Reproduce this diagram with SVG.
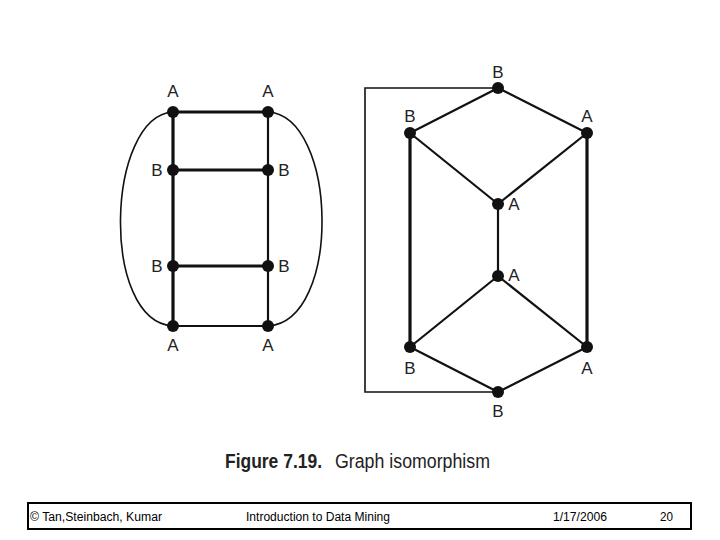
<svg xmlns="http://www.w3.org/2000/svg" width="720" height="540" viewBox="0 0 720 540">
<style>
.n{fill:#111}
.l{font-family:"Liberation Sans",Arial,sans-serif;font-size:17px;fill:#222;text-anchor:middle}
.e{stroke:#111;fill:none}
.t3{stroke-width:3.2}
.t2{stroke-width:2.2}
.t1{stroke-width:1.6}
.f{font-family:"Liberation Sans",Arial,sans-serif;font-size:12px;fill:#000}
</style>
<rect width="720" height="540" fill="#fff"/>
<g id="connectors">
<line class="e t3" x1="173" y1="112" x2="268" y2="112"/>
<line class="e t3" x1="173" y1="170" x2="268" y2="170"/>
<line class="e t3" x1="173" y1="266" x2="268" y2="266"/>
<line class="e t2" x1="173" y1="326" x2="268" y2="326"/>
<line class="e t3" x1="173" y1="112" x2="173" y2="326"/>
<line class="e t2" x1="268" y1="112" x2="268" y2="326"/>
<path class="e t1" d="M173,112 C106,116 100,322 173,326"/>
<path class="e t1" d="M268,112 C338,116 342,322 268,326"/>
<polyline class="e t1" points="498,88 365,88 365,392 498,392"/>
<line class="e t2" x1="498" y1="88" x2="410" y2="133"/>
<line class="e t2" x1="498" y1="88" x2="587" y2="133"/>
<line class="e t2" x1="410" y1="133" x2="498" y2="204"/>
<line class="e t2" x1="587" y1="133" x2="498" y2="204"/>
<line class="e t2" x1="498" y1="204" x2="498" y2="276"/>
<line class="e t3" x1="410" y1="133" x2="410" y2="347"/>
<line class="e t3" x1="587" y1="133" x2="587" y2="347"/>
<line class="e t2" x1="498" y1="276" x2="410" y2="347"/>
<line class="e t2" x1="498" y1="276" x2="587" y2="347"/>
<line class="e t2" x1="410" y1="347" x2="498" y2="392"/>
<line class="e t2" x1="587" y1="347" x2="498" y2="392"/>
</g>
<g id="L1"><circle class="n" cx="173" cy="112" r="6"/><text class="l" x="173" y="97">A</text></g>
<g id="L2"><circle class="n" cx="268" cy="112" r="6"/><text class="l" x="268" y="97">A</text></g>
<g id="L3"><circle class="n" cx="173" cy="170" r="6"/><text class="l" x="157" y="176">B</text></g>
<g id="L4"><circle class="n" cx="268" cy="170" r="6"/><text class="l" x="284" y="176">B</text></g>
<g id="L5"><circle class="n" cx="173" cy="266" r="6"/><text class="l" x="157" y="272">B</text></g>
<g id="L6"><circle class="n" cx="268" cy="266" r="6"/><text class="l" x="284" y="272">B</text></g>
<g id="L7"><circle class="n" cx="173" cy="326" r="6"/><text class="l" x="173" y="351">A</text></g>
<g id="L8"><circle class="n" cx="268" cy="326" r="6"/><text class="l" x="268" y="351">A</text></g>
<g id="R1"><circle class="n" cx="498" cy="88" r="6"/><text class="l" x="498" y="78">B</text></g>
<g id="R2"><circle class="n" cx="410" cy="133" r="6"/><text class="l" x="410" y="122">B</text></g>
<g id="R3"><circle class="n" cx="587" cy="133" r="6"/><text class="l" x="587" y="122">A</text></g>
<g id="R4"><circle class="n" cx="498" cy="204" r="6"/><text class="l" x="514" y="210">A</text></g>
<g id="R5"><circle class="n" cx="498" cy="276" r="6"/><text class="l" x="514" y="281">A</text></g>
<g id="R6"><circle class="n" cx="410" cy="347" r="6"/><text class="l" x="410" y="374">B</text></g>
<g id="R7"><circle class="n" cx="587" cy="347" r="6"/><text class="l" x="587" y="374">A</text></g>
<g id="R8"><circle class="n" cx="498" cy="392" r="6"/><text class="l" x="498" y="417">B</text></g>
<g id="caption">
<text x="225" y="468" font-family="'Liberation Sans',Arial,sans-serif" font-size="20" font-weight="bold" fill="#222" textLength="97" lengthAdjust="spacingAndGlyphs">Figure 7.19.</text>
<text x="335" y="468" font-family="'Liberation Sans',Arial,sans-serif" font-size="20" fill="#222" textLength="155" lengthAdjust="spacingAndGlyphs">Graph isomorphism</text>
</g>
<g id="footer">
<rect x="28" y="503" width="663" height="26" fill="none" stroke="#000" stroke-width="2"/>
<text class="f" x="30" y="521" textLength="132" lengthAdjust="spacingAndGlyphs">© Tan,Steinbach, Kumar</text>
<text class="f" x="246" y="521" textLength="144" lengthAdjust="spacingAndGlyphs">Introduction to Data Mining</text>
<text class="f" x="553" y="521" textLength="54" lengthAdjust="spacingAndGlyphs">1/17/2006</text>
<text class="f" x="660" y="521" textLength="13" lengthAdjust="spacingAndGlyphs">20</text>
</g>
</svg>
